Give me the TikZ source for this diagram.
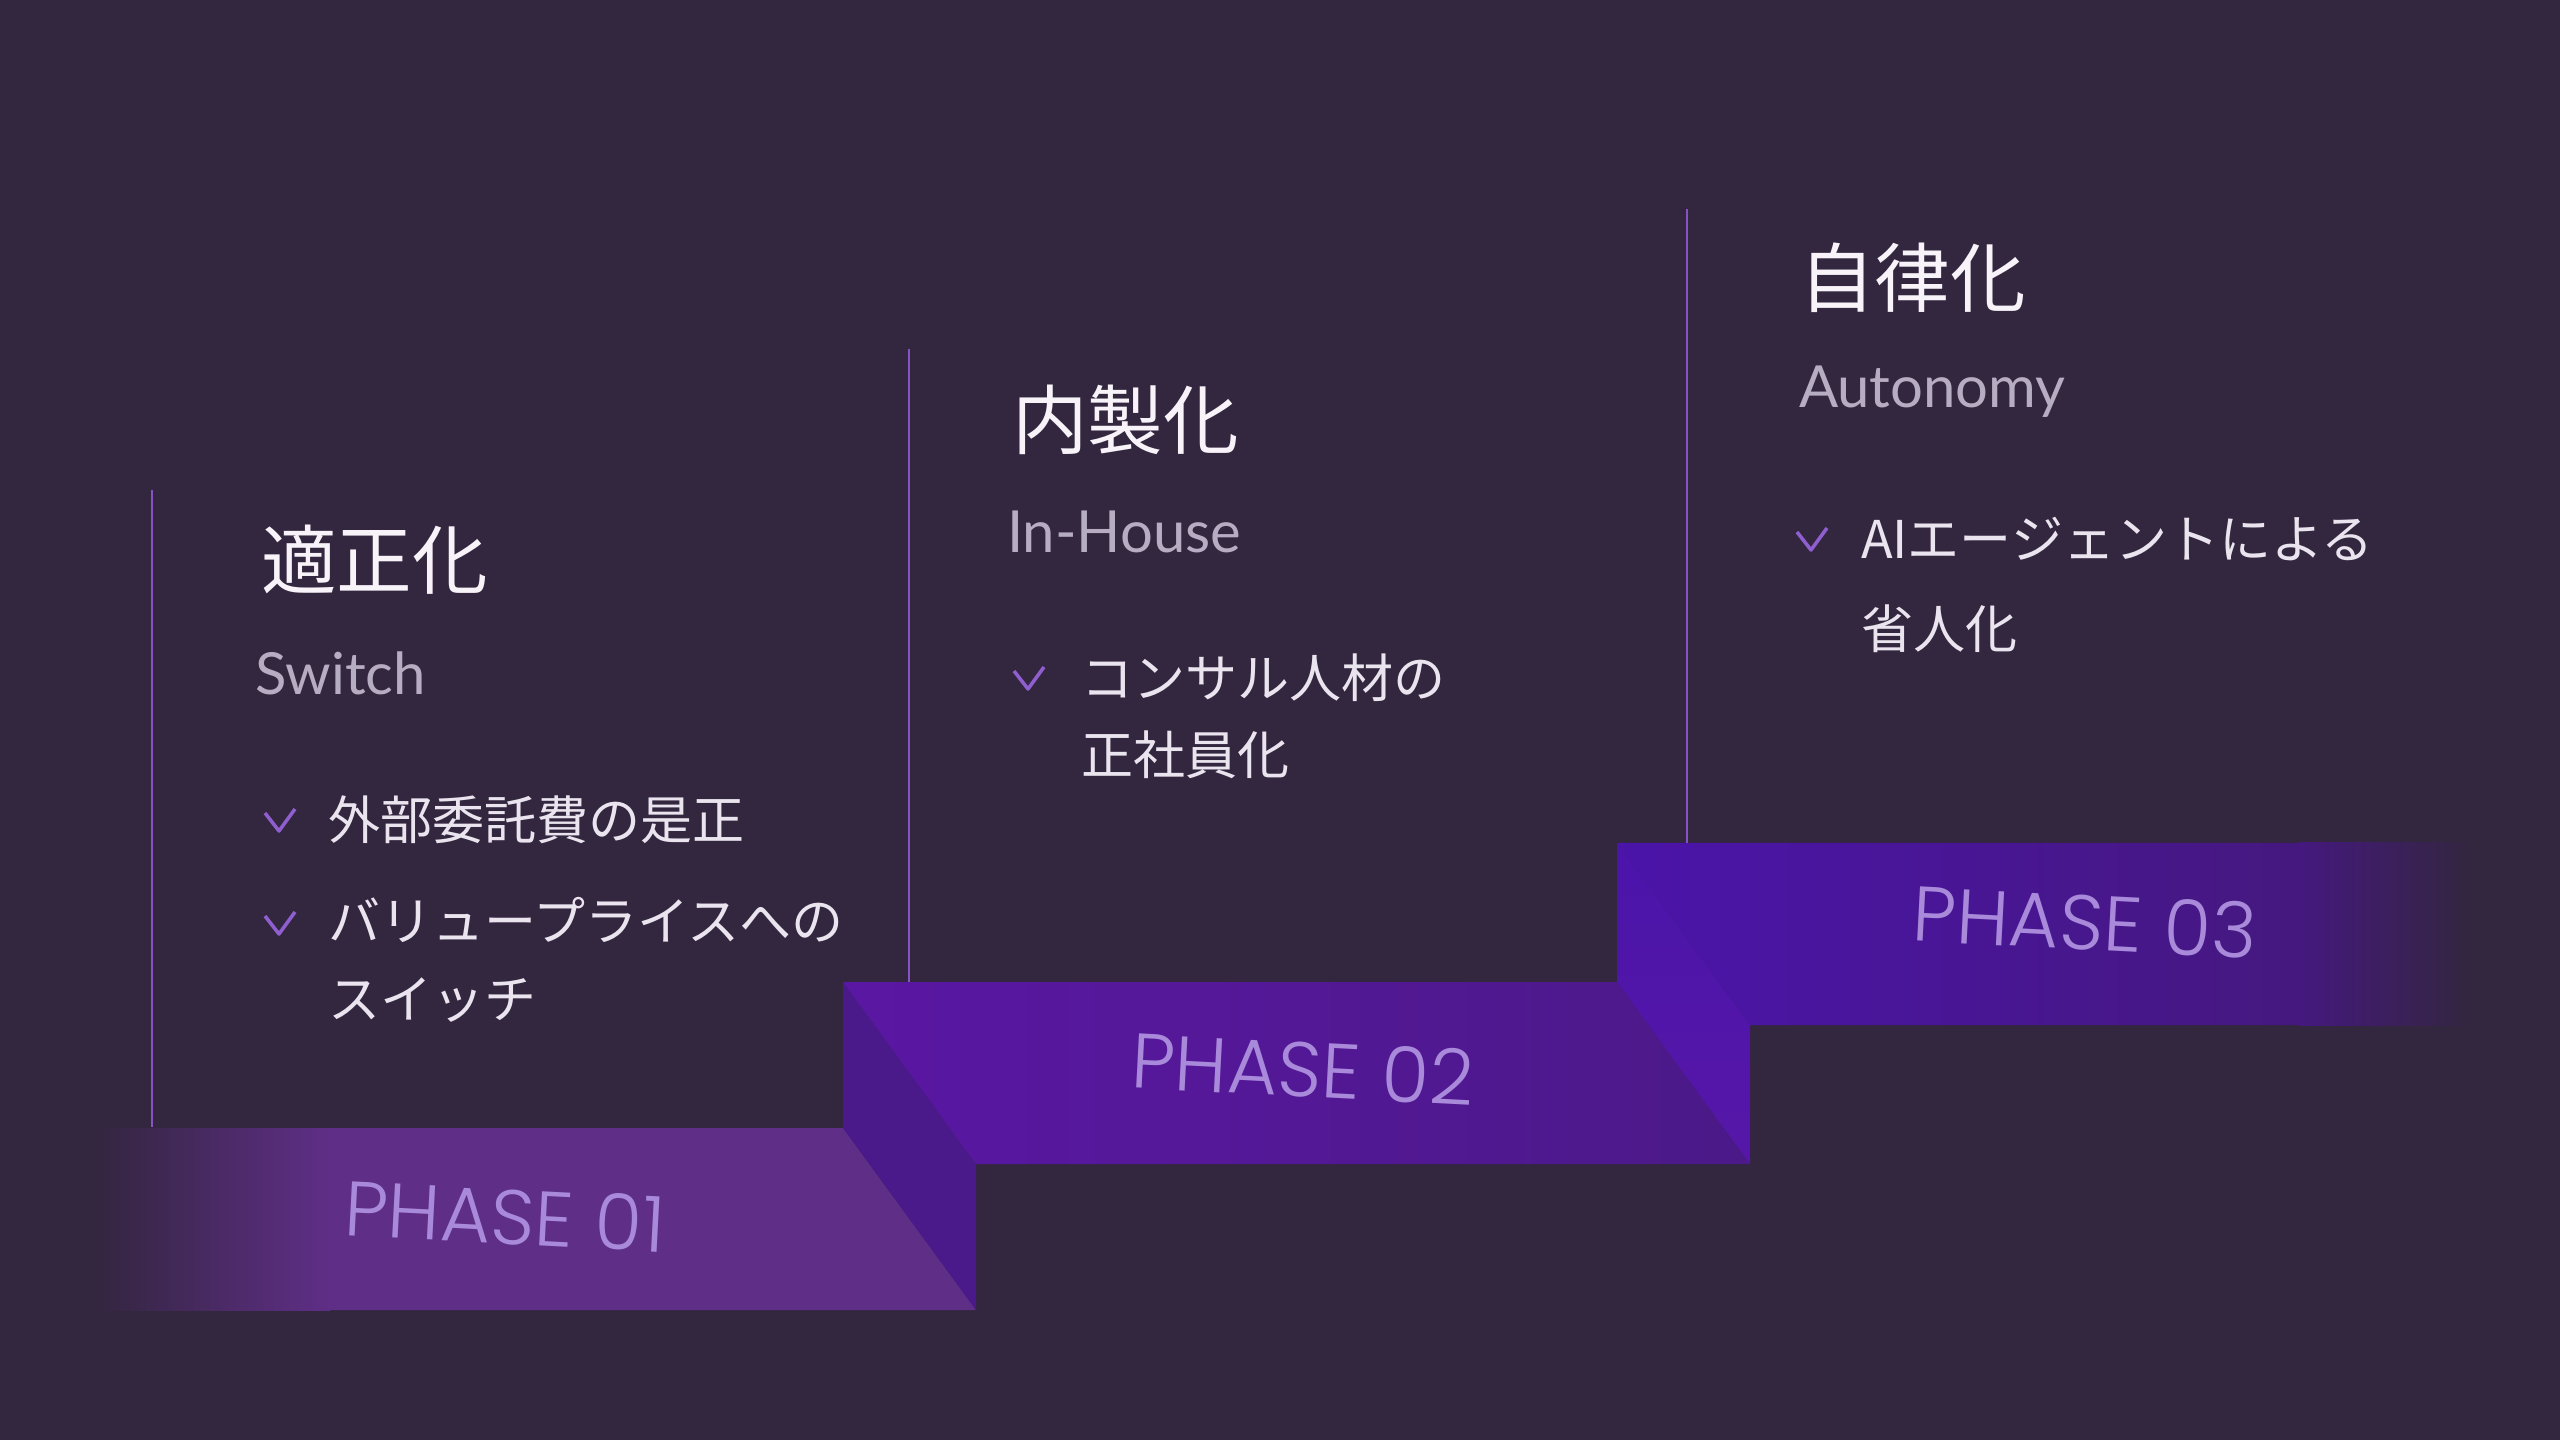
\documentclass[tikz,border=0pt]{standalone}
\usepackage{fontspec}
\newfontfamily\jpfont{Noto Sans CJK JP}
\newfontfamily\enfont{Lato}
\newfontfamily\phfont{Poppins Light}
\definecolor{bgcol}{HTML}{33263F}
\definecolor{onecol}{HTML}{5F2E87}
\definecolor{twoleft}{HTML}{5A17A3}
\definecolor{tworight}{HTML}{4B1988}
\definecolor{tworiser}{HTML}{4A1A8A}
\definecolor{threeleft}{HTML}{4B14AA}
\definecolor{threeright}{HTML}{45187F}
\definecolor{threeriser}{HTML}{5617A8}
\definecolor{titlecol}{HTML}{F7F3F8}
\definecolor{subcol}{HTML}{B7ADC3}
\definecolor{itemcol}{HTML}{EAE4EF}
\definecolor{chkcol}{HTML}{8F5FD0}
\definecolor{stemcol}{HTML}{8652C6}
\definecolor{phasecol}{HTML}{A98ADA}
\begin{document}
\begin{tikzpicture}[x=0.01cm, y=-0.01cm,
  every node/.style={inner sep=0pt, outer sep=0pt},
  ttl/.style={anchor=west, text=titlecol, font=\jpfont\fontsize{21.5}{26}\selectfont},
  sub/.style={anchor=west, text=subcol, font=\enfont\fontsize{16.5}{20}\selectfont},
  item/.style={anchor=west, align=left, text=itemcol, font=\jpfont\fontsize{14.8}{22}\selectfont},
  phase/.style={text=phasecol, font=\phfont\fontsize{22}{26}\selectfont, rotate=-3},
  stem/.style={draw=stemcol, line width=0.8pt},
  chk/.pic={\draw[chkcol, line width=1pt, line join=round] (-14,-8) -- (0,10) -- (16,-12);}]

% background
\fill[bgcol] (0,0) rectangle (2560,1440);

% step 1
\shade[left color=bgcol, right color=onecol] (95,1128) rectangle (330,1310);
\fill[onecol] (329,1128) -- (843,1128) -- (976,1310) -- (329,1310) -- cycle;
% step 2 and its riser
\fill[tworiser] (843,982) -- (976,1164) -- (976,1310) -- (843,1128) -- cycle;
\shade[left color=twoleft, right color=tworight] (843,982) -- (1617,982) -- (1750,1164) -- (976,1164) -- cycle;
% step 3 and its riser
\shade[top color=threeleft, bottom color=threeriser] (1617,843) -- (1750,1025) -- (1750,1164) -- (1617,982) -- cycle;
\shade[left color=threeleft, right color=threeright] (1617,843) -- (2300,843) -- (2300,1025) -- (1750,1025) -- cycle;
\shade[left color=threeright, right color=bgcol] (2299,843) rectangle (2470,1025);

% stems
\coordinate (a1) at (152,490);
\coordinate (b1) at (152,1127);
\coordinate (a2) at (909,349);
\coordinate (b2) at (909,982);
\coordinate (a3) at (1687,209);
\coordinate (b3) at (1687,843);
\draw[stem] (a1) -- (b1);
\draw[stem] (a2) -- (b2);
\draw[stem] (a3) -- (b3);

% phase 01
\node[ttl] (t1) at (261,560) {適正化};
\node[sub] (s1) at (255,673) {Switch};
\pic at (279,821) {chk};
\node[item] (i1a) at (328,820) {外部委託費の是正};
\pic at (279,924) {chk};
\node[item] (i1b) at (328,960) {バリュープライスへの\\スイッチ};

% phase 02
\node[ttl] (t2) at (1012,420) {内製化};
\node[sub] (s2) at (1007,532) {In-House};
\pic at (1028,679) {chk};
\node[item] (i2a) at (1081,716) {コンサル人材の\\正社員化};

% phase 03
\node[ttl] (t3) at (1799,278) {自律化};
\node[sub] (s3) at (1799,392) {Autonomy};
\pic at (1811,540) {chk};
\node[item, font=\jpfont\fontsize{14.8}{25.5}\selectfont] (i3a) at (1861,585) {AIエージェントによる\\省人化};

% step labels
\node[phase] (p1) at (505,1216) {PHASE 01};
\node[phase] (p2) at (1303,1069) {PHASE 02};
\node[phase] (p3) at (2085,922) {PHASE 03};
\end{tikzpicture}
\end{document}
